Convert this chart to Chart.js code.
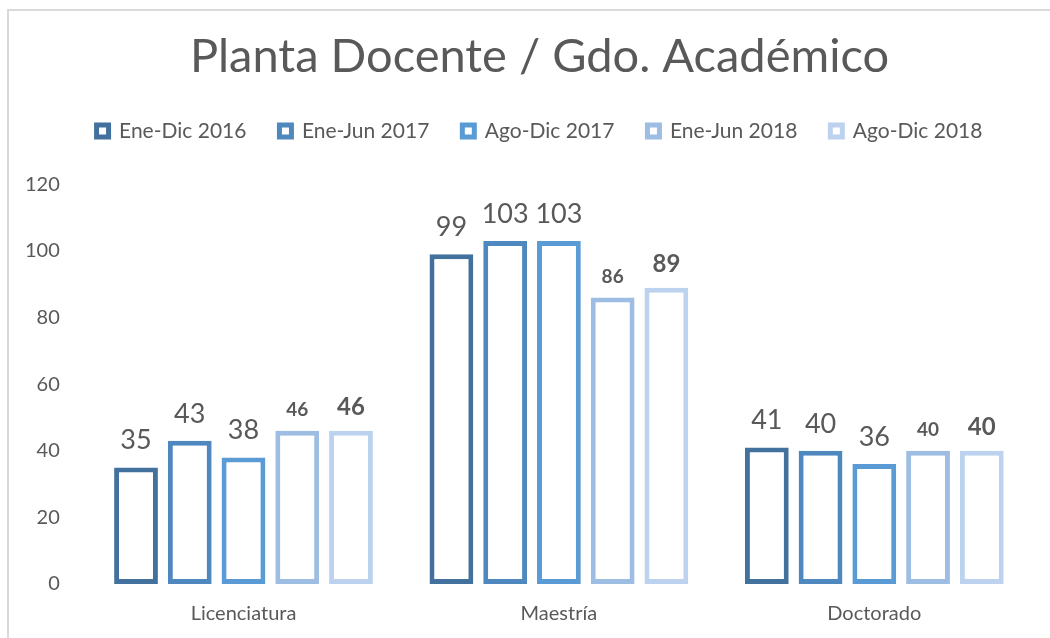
<!DOCTYPE html>
<html>
<head>
<meta charset="utf-8">
<script src="https://cdn.jsdelivr.net/npm/chart.js@4/dist/chart.umd.min.js"></script>
<style>
  html, body { margin: 0; padding: 0; background: #fff; }
  #frame { position: absolute; left: 7px; top: 9px; width: 1100px; height: 700px;
           border-left: 2px solid #d9d9d9; border-top: 2px solid #d9d9d9; }
  #wrap { position: absolute; left: 0; top: 0; width: 1050px; height: 638px; }
</style>
</head>
<body>
<div id="frame"></div>
<div id="wrap"><canvas id="chart" width="1050" height="638"></canvas></div>
<script>
// datos
const categories = ["Licenciatura", "Maestría", "Doctorado"];
const seriesNames = ["Ene-Dic 2016", "Ene-Jun 2017", "Ago-Dic 2017", "Ene-Jun 2018", "Ago-Dic 2018"];
const eneDic2016 = [35, 99, 41];
const eneJun2017 = [43, 103, 40];
const agoDic2017 = [38, 103, 36];
const eneJun2018 = [46, 86, 40];
const agoDic2018 = [46, 89, 40];
const yTicks = [0, 20, 40, 60, 80, 100, 120];

const colors = ["#43719d", "#4f88be", "#5b9bd5", "#9dbde3", "#bcd2ee"];
const labelFonts = [
    { size: 27, weight: "normal", gap: 18 },
    { size: 27, weight: "normal", gap: 18 },
    { size: 27, weight: "normal", gap: 18 },
    { size: 19, weight: "bold", gap: 15 },
    { size: 24, weight: "bold", gap: 16 }
];
const FONT = "Lato, 'Open Sans', sans-serif";

const allValues = [eneDic2016, eneJun2017, agoDic2017, eneJun2018, agoDic2018];

// etiquetas de datos encima de cada barra
const valueLabels = {
    id: "valueLabels",
    afterDatasetsDraw(chart) {
        const ctx = chart.ctx;
        ctx.save();
        ctx.fillStyle = "#595959";
        ctx.textAlign = "center";
        ctx.textBaseline = "alphabetic";
        chart.data.datasets.forEach((ds, i) => {
            const meta = chart.getDatasetMeta(i);
            const f = labelFonts[i];
            ctx.font = f.weight + " " + f.size + "px " + FONT;
            meta.data.forEach((bar, j) => {
                ctx.fillText(String(ds.data[j]), bar.x, bar.y - f.gap);
            });
        });
        ctx.restore();
    }
};

// espacio extra debajo de la leyenda, y título/leyenda un poco a la derecha
const legendSpace = {
    id: "legendSpace",
    beforeInit(chart) {
        const fit = chart.legend.fit;
        chart.legend.fit = function () {
            fit.bind(chart.legend)();
            this.height += 33;
        };
    },
    afterLayout(chart) {
        [chart.titleBlock, chart.legend].forEach(b => {
            b.left += 20;
            b.right += 20;
        });
    }
};

const ctx = document.getElementById("chart").getContext("2d");
new Chart(ctx, {
    type: "bar",
    data: {
        labels: categories,
        datasets: allValues.map((vals, i) => ({
            label: seriesNames[i],
            data: vals,
            backgroundColor: "#ffffff",
            borderColor: colors[i],
            borderWidth: 5,
            borderSkipped: false,
            categoryPercentage: 0.852,
            barPercentage: 0.815
        }))
    },
    options: {
        responsive: false,
        animation: false,
        layout: { padding: { left: 7, right: 18, top: 0, bottom: 2 } },
        plugins: {
            title: {
                display: true,
                text: "Planta Docente / Gdo. Académico",
                color: "#595959",
                font: { family: FONT, size: 47, weight: "normal" },
                padding: { top: 29, bottom: 2 }
            },
            legend: {
                position: "top",
                labels: {
                    color: "#595959",
                    font: { family: FONT, size: 21 },
                    boxWidth: 12,
                    boxHeight: 12,
                    padding: 33,
                    generateLabels(chart) {
                        return Chart.defaults.plugins.legend.labels.generateLabels(chart)
                            .map(l => Object.assign(l, { lineWidth: 5, fillStyle: "#ffffff" }));
                    }
                }
            },
            tooltip: { enabled: false }
        },
        scales: {
            x: {
                grid: { display: false },
                border: { display: false },
                ticks: { color: "#595959", font: { family: FONT, size: 20 }, padding: 10 }
            },
            y: {
                min: 0,
                max: 120,
                afterBuildTicks(axis) { axis.ticks = yTicks.map(v => ({ value: v })); },
                grid: { display: false },
                border: { display: false },
                ticks: { color: "#595959", font: { family: FONT, size: 20 }, padding: 18 }
            }
        }
    },
    plugins: [valueLabels, legendSpace]
});
</script>
</body>
</html>
